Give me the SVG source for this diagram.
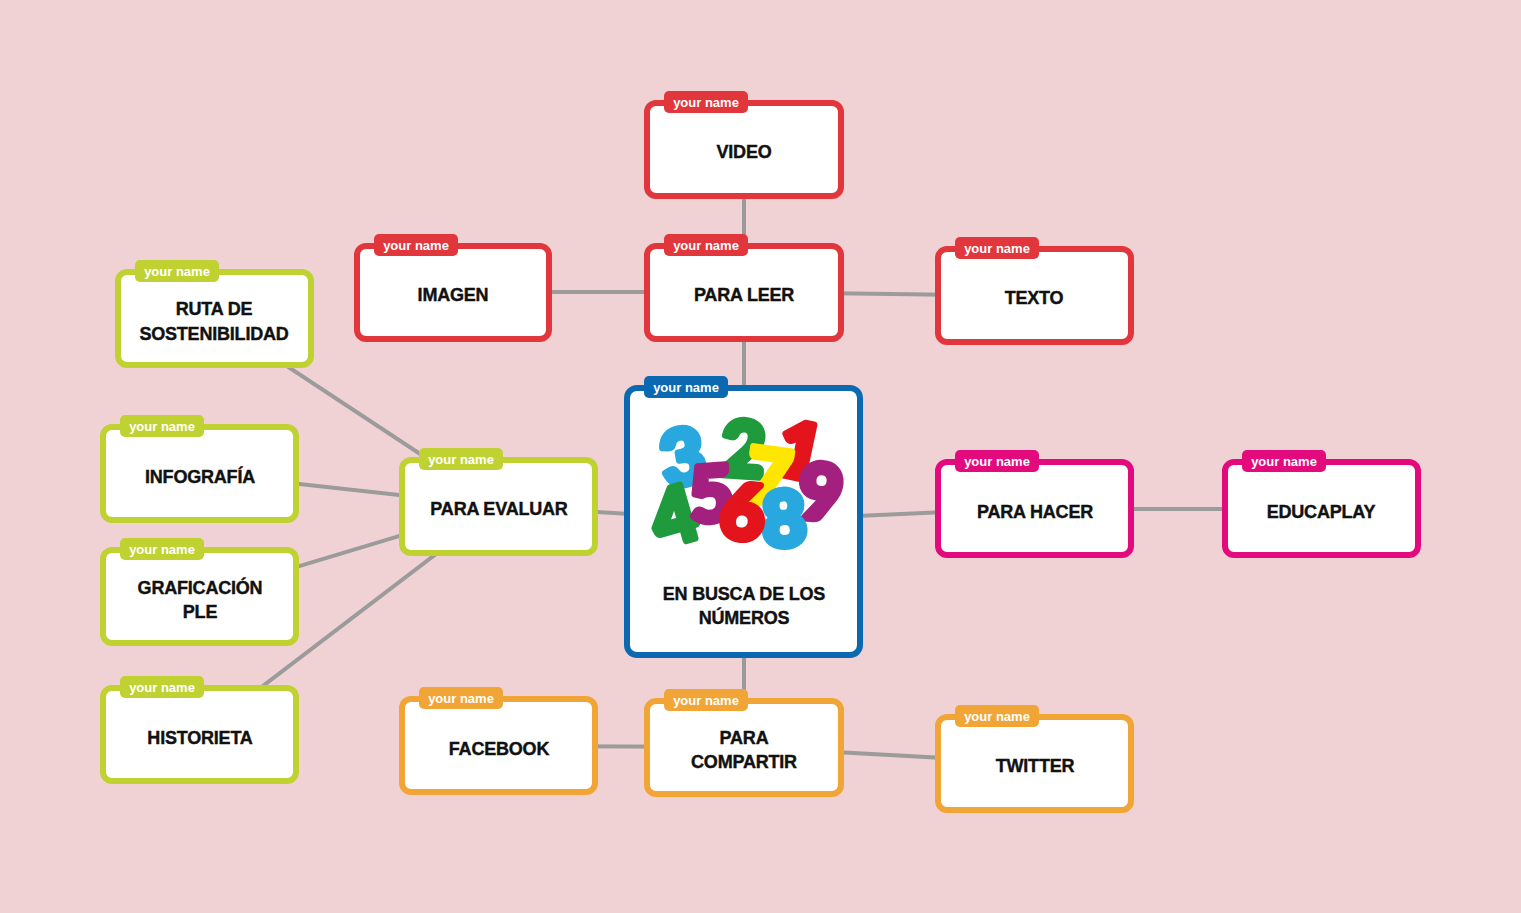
<svg xmlns="http://www.w3.org/2000/svg" width="1521" height="913" viewBox="0 0 1521 913">
<style>
.box{fill:#fff;stroke-width:6}
.lbl{font-family:"Liberation Sans",Arial,sans-serif;font-weight:bold;font-size:18px;letter-spacing:-0.2px;fill:#111;stroke:#111;stroke-width:0.4;text-anchor:middle}
.tag{font-family:"Liberation Sans",Arial,sans-serif;font-weight:bold;font-size:13px;fill:#fff;text-anchor:middle}
.red .box{stroke:#e0363c}.red .tg{fill:#e0363c}
.grn .box{stroke:#bfd232}.grn .tg{fill:#bfd232}
.blu .box{stroke:#0b69b2}.blu .tg{fill:#0b69b2}
.mag .box{stroke:#e20a7c}.mag .tg{fill:#e20a7c}
.org .box{stroke:#f0a536}.org .tg{fill:#f0a536}
.conn line{stroke:#9b9b9b;stroke-width:4}
.dig{font-family:Lato,"Liberation Sans",sans-serif;font-weight:900;font-size:76px;text-anchor:middle;stroke-width:7;stroke-linejoin:round;stroke-linecap:round}
</style>
<rect x="0" y="0" width="1521" height="913" fill="#f0d2d4"/>
<g id="connectors" class="conn">
<line x1="744" y1="150" x2="744" y2="292"/>
<line x1="453" y1="292" x2="744" y2="292"/>
<line x1="744" y1="292" x2="1034" y2="296"/>
<line x1="744" y1="292" x2="744" y2="747"/>
<line x1="499" y1="506" x2="744" y2="521"/>
<line x1="744" y1="521" x2="1035" y2="508"/>
<line x1="1035" y1="509" x2="1321" y2="509"/>
<line x1="499" y1="746" x2="744" y2="747"/>
<line x1="744" y1="747" x2="1034" y2="763"/>
<line x1="214" y1="318" x2="499" y2="506"/>
<line x1="200" y1="473" x2="499" y2="506"/>
<line x1="200" y1="596" x2="499" y2="506"/>
<line x1="200" y1="734" x2="499" y2="506"/>
</g>
<g id="video" class="red">
<rect class="box" x="647" y="103" width="194" height="93" rx="9"/>
<rect class="tg" x="664" y="91" width="84" height="22" rx="5"/>
<text class="tag" x="706" y="106.5">your name</text>
<text class="lbl" x="744" y="157.5">VIDEO</text>
</g>
<g id="para-leer" class="red">
<rect class="box" x="647" y="246" width="194" height="93" rx="9"/>
<rect class="tg" x="664" y="234" width="84" height="22" rx="5"/>
<text class="tag" x="706" y="249.5">your name</text>
<text class="lbl" x="744" y="300.5">PARA LEER</text>
</g>
<g id="imagen" class="red">
<rect class="box" x="357" y="246" width="192" height="93" rx="9"/>
<rect class="tg" x="374" y="234" width="84" height="22" rx="5"/>
<text class="tag" x="416" y="249.5">your name</text>
<text class="lbl" x="453" y="300.5">IMAGEN</text>
</g>
<g id="texto" class="red">
<rect class="box" x="938" y="249" width="193" height="93" rx="9"/>
<rect class="tg" x="955" y="237" width="84" height="22" rx="5"/>
<text class="tag" x="997" y="252.5">your name</text>
<text class="lbl" x="1034" y="303.5">TEXTO</text>
</g>
<g id="ruta" class="grn">
<rect class="box" x="118" y="272" width="193" height="93" rx="9"/>
<rect class="tg" x="135" y="260" width="84" height="22" rx="5"/>
<text class="tag" x="177" y="275.5">your name</text>
<text class="lbl" x="214" y="314.5">RUTA DE</text>
<text class="lbl" x="214" y="339.5">SOSTENIBILIDAD</text>
</g>
<g id="infografia" class="grn">
<rect class="box" x="103" y="427" width="193" height="93" rx="9"/>
<rect class="tg" x="120" y="415" width="84" height="22" rx="5"/>
<text class="tag" x="162" y="430.5">your name</text>
<text class="lbl" x="200" y="482.5">INFOGRAFÍA</text>
</g>
<g id="graficacion" class="grn">
<rect class="box" x="103" y="550" width="193" height="93" rx="9"/>
<rect class="tg" x="120" y="538" width="84" height="22" rx="5"/>
<text class="tag" x="162" y="553.5">your name</text>
<text class="lbl" x="200" y="593.5">GRAFICACIÓN</text>
<text class="lbl" x="200" y="617.5">PLE</text>
</g>
<g id="historieta" class="grn">
<rect class="box" x="103" y="688" width="193" height="93" rx="9"/>
<rect class="tg" x="120" y="676" width="84" height="22" rx="5"/>
<text class="tag" x="162" y="691.5">your name</text>
<text class="lbl" x="200" y="743.5">HISTORIETA</text>
</g>
<g id="para-evaluar" class="grn">
<rect class="box" x="402" y="460" width="193" height="93" rx="9"/>
<rect class="tg" x="419" y="448" width="84" height="22" rx="5"/>
<text class="tag" x="461" y="463.5">your name</text>
<text class="lbl" x="499" y="514.5">PARA EVALUAR</text>
</g>
<g id="centro" class="blu">
<rect class="box" x="627" y="388" width="233" height="267" rx="10"/>
<rect class="tg" x="644" y="376" width="84" height="22" rx="5"/>
<text class="tag" x="686" y="391.5">your name</text>
<g id="numeros">
<text class="dig" fill="#29a8e0" stroke="#29a8e0" x="683" y="484" transform="rotate(-10 683 458)">3</text>
<text class="dig" fill="#1f9a3c" stroke="#1f9a3c" x="743" y="476" transform="rotate(4 743 450)">2</text>
<text class="dig" fill="#e3141c" stroke="#e3141c" x="800" y="478" transform="rotate(12 800 452)">1</text>
<text class="dig" fill="#1f9a3c" stroke="#1f9a3c" x="674" y="543" transform="rotate(-16 674 515)">4</text>
<text class="dig" fill="#a3207f" stroke="#a3207f" x="821" y="519" transform="rotate(4 821 490)">9</text>
<text class="dig" fill="#a3207f" stroke="#a3207f" x="711" y="521" transform="rotate(-4 711 493)">5</text>
<text class="dig" fill="#ffe600" stroke="#ffe600" x="768" y="504" transform="rotate(8 768 480)">7</text>
<text class="dig" fill="#29a8e0" stroke="#29a8e0" x="784" y="546" transform="rotate(-3 784 518)">8</text>
<text class="dig" fill="#e3141c" stroke="#e3141c" x="743" y="539" transform="rotate(6 743 510)">6</text>
</g>
<text class="lbl" x="744" y="599.5">EN BUSCA DE LOS</text>
<text class="lbl" x="744" y="623.5">NÚMEROS</text>
</g>
<g id="para-hacer" class="mag">
<rect class="box" x="938" y="462" width="193" height="93" rx="9"/>
<rect class="tg" x="955" y="450" width="84" height="22" rx="5"/>
<text class="tag" x="997" y="465.5">your name</text>
<text class="lbl" x="1035" y="517.5">PARA HACER</text>
</g>
<g id="educaplay" class="mag">
<rect class="box" x="1225" y="462" width="193" height="93" rx="9"/>
<rect class="tg" x="1242" y="450" width="84" height="22" rx="5"/>
<text class="tag" x="1284" y="465.5">your name</text>
<text class="lbl" x="1321" y="517.5">EDUCAPLAY</text>
</g>
<g id="facebook" class="org">
<rect class="box" x="402" y="699" width="193" height="93" rx="9"/>
<rect class="tg" x="419" y="687" width="84" height="22" rx="5"/>
<text class="tag" x="461" y="702.5">your name</text>
<text class="lbl" x="499" y="754.5">FACEBOOK</text>
</g>
<g id="para-compartir" class="org">
<rect class="box" x="647" y="701" width="194" height="93" rx="9"/>
<rect class="tg" x="664" y="689" width="84" height="22" rx="5"/>
<text class="tag" x="706" y="704.5">your name</text>
<text class="lbl" x="744" y="743.5">PARA</text>
<text class="lbl" x="744" y="767.5">COMPARTIR</text>
</g>
<g id="twitter" class="org">
<rect class="box" x="938" y="717" width="193" height="93" rx="9"/>
<rect class="tg" x="955" y="705" width="84" height="22" rx="5"/>
<text class="tag" x="997" y="720.5">your name</text>
<text class="lbl" x="1035" y="771.5">TWITTER</text>
</g>
</svg>
